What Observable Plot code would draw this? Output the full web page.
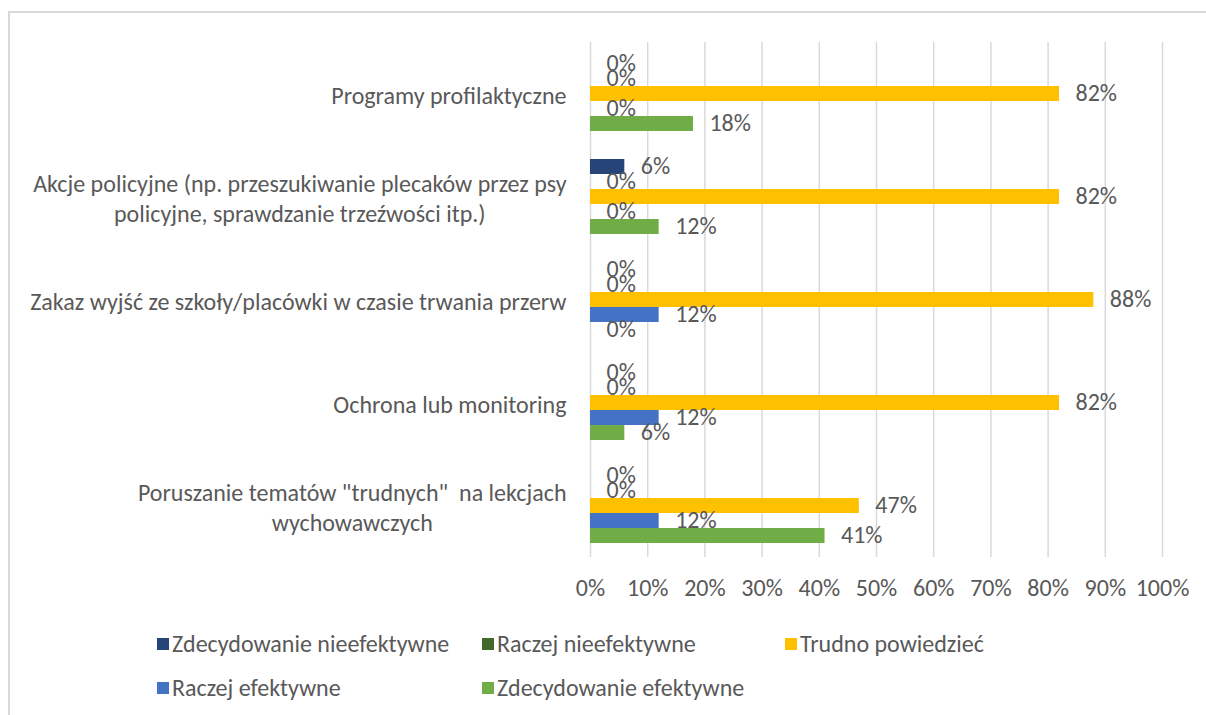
<!DOCTYPE html>
<html>
<head>
<meta charset="utf-8">
<script src="https://cdn.jsdelivr.net/npm/d3@7"></script>
<script src="https://cdn.jsdelivr.net/npm/@observablehq/plot@0.6"></script>
<style>
  html, body { margin: 0; padding: 0; background: #fff; }
  body { width: 1206px; height: 715px; position: relative; overflow: hidden;
         font-family: Carlito, Lato, "Liberation Sans", sans-serif; color: #595959; }
  #frame { position: absolute; left: 8px; top: 11px; width: 1210px; height: 720px;
           border-left: 2px solid #d9d9d9; border-top: 2px solid #d9d9d9; }
  #chart { position: absolute; left: 0; top: 0; }
  #legend { position: absolute; left: 0; top: 0; width: 1206px; height: 715px; pointer-events: none; }
  .item { position: absolute; display: flex; align-items: center; font-size: 24px; color: #595959; white-space: nowrap; }
  .sw { width: 12px; height: 12px; margin-right: 3px; flex: none; }
</style>
</head>
<body>
<div id="frame"></div>
<div id="chart"></div>
<div id="legend"></div>
<script>
const categories = [
  "Programy profilaktyczne",
  "Akcje policyjne (np. przeszukiwanie plecaków przez psy policyjne, sprawdzanie trzeźwości itp.)",
  "Zakaz wyjść ze szkoły/placówki w czasie trwania przerw",
  "Ochrona lub monitoring",
  "Poruszanie tematów \"trudnych\"  na lekcjach wychowawczych"
];
const categoryLabels = [
  "Programy profilaktyczne",
  "Akcje policyjne (np. przeszukiwanie plecaków przez psy\npolicyjne, sprawdzanie trzeźwości itp.)",
  "Zakaz wyjść ze szkoły/placówki w czasie trwania przerw",
  "Ochrona lub monitoring",
  "Poruszanie tematów \"trudnych\"  na lekcjach\nwychowawczych"
];
const series = [
  "Zdecydowanie nieefektywne",
  "Raczej nieefektywne",
  "Trudno powiedzieć",
  "Raczej efektywne",
  "Zdecydowanie efektywne"
];
const colors = ["#264478", "#43682B", "#FFC000", "#4472C4", "#70AD47"];
// values per series, in category order
const zdecydowanieNieefektywne = [0, 6, 0, 0, 0];
const raczejNieefektywne       = [0, 0, 0, 0, 0];
const trudnoPowiedziec         = [82, 82, 88, 82, 47];
const raczejEfektywne          = [0, 0, 12, 12, 12];
const zdecydowanieEfektywne    = [18, 12, 0, 6, 41];
const xTicks = [0, 10, 20, 30, 40, 50, 60, 70, 80, 90, 100];

const seriesValues = [zdecydowanieNieefektywne, raczejNieefektywne, trudnoPowiedziec, raczejEfektywne, zdecydowanieEfektywne];
const data = [];
categories.forEach((c, i) => series.forEach((s, j) => data.push({category: c, series: s, value: seriesValues[j][i]})));
const labelOf = new Map(categories.map((c, i) => [c, categoryLabels[i]]));

const FONT = 'Carlito, Lato, "Liberation Sans", sans-serif';

const plot = Plot.plot({
  width: 1206,
  height: 610,
  marginLeft: 590,
  marginRight: 44,
  marginTop: 40,
  marginBottom: 52,
  style: {fontFamily: FONT, fontSize: "24px", color: "#595959", background: "transparent"},
  x: {domain: [0, 100], label: null},
  y: {domain: series, paddingInner: 0.01, paddingOuter: 0.9, label: null},
  fy: {domain: categories, padding: 0, label: null},
  color: {domain: series, range: colors},
  marks: [
    Plot.gridX(xTicks, {stroke: "#d9d9d9", strokeOpacity: 1, strokeWidth: 1.5}),
    Plot.barX(data, {fy: "category", y: "series", x: "value", fill: "series"}),
    Plot.text(data, {fy: "category", y: "series", x: "value", text: d => d.value + "%",
      textAnchor: "start", dx: 16, dy: -1, fill: "#595959", fontSize: 24}),
    Plot.axisX({ticks: xTicks, tickFormat: d => d + "%", tickSize: 0, tickPadding: 21, fontSize: 24, fill: "#595959", label: null}),
    Plot.axisY({ticks: []}),
    Plot.axisFy({anchor: "left", tickSize: 0, tickPadding: 24, tickFormat: d => labelOf.get(d), lineHeight: 1.25, fontSize: 24, fill: "#595959", label: null})
  ]
});
document.getElementById("chart").appendChild(plot);

// center multi-line category labels like the original
d3.select(plot).selectAll('g[aria-label="fy-axis tick label"] text').each(function() {
  const tspans = d3.select(this).selectAll("tspan");
  if (tspans.size() < 2) return;
  let maxW = 0;
  tspans.each(function() { maxW = Math.max(maxW, this.getComputedTextLength()); });
  d3.select(this).attr("text-anchor", "middle");
  tspans.attr("x", -maxW / 2);
});

// legend
const legendPos = [[157, 644], [482, 644], [785, 644], [157, 688], [482, 688]];
const legend = d3.select("#legend");
series.forEach((s, i) => {
  const it = legend.append("div").attr("class", "item")
    .style("left", legendPos[i][0] + "px").style("top", (legendPos[i][1] - 15) + "px");
  it.append("div").attr("class", "sw").style("background", colors[i]);
  it.append("span").text(s);
});
</script>
</body>
</html>
